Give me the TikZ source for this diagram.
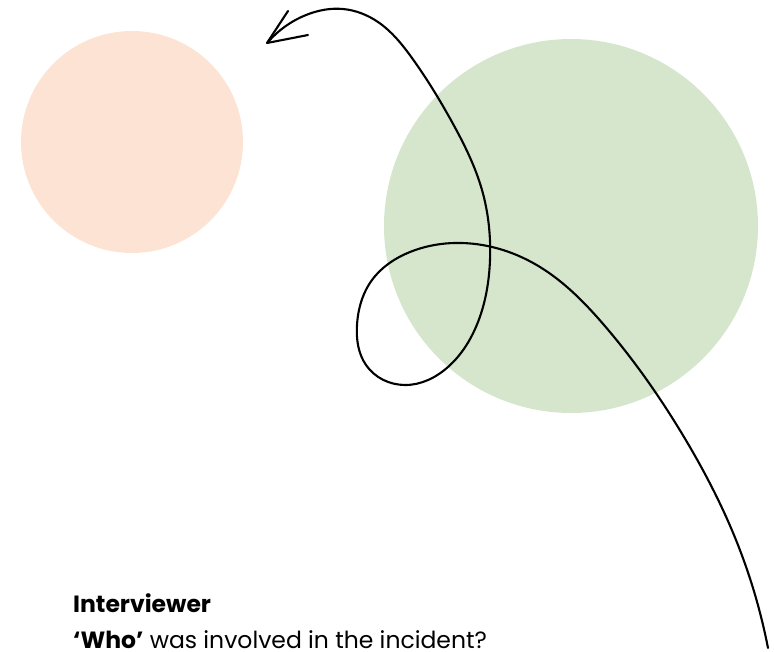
\documentclass[tikz,border=0pt]{standalone}
\usepackage{fontspec}
\setmainfont{Poppins}
\usetikzlibrary{positioning,hobby}
\definecolor{peach}{RGB}{252,227,211}
\definecolor{sage}{RGB}{213,230,205}
\begin{document}
\begin{tikzpicture}[x=1pt,y=-1pt,
  blob/.style={draw=none},
  loopline/.style={black, line width=2.1pt, line cap=round, line join=round},
  caption/.style={anchor=base west, inner sep=0pt, font=\fontsize{23.5}{28}\selectfont}
]
\useasboundingbox (0,0) rectangle (774,651);
% circles
\fill[blob, peach] (132,142) circle (111);
\fill[blob, sage] (571,226) circle (187);
% looping arrow
\draw[loopline, use Hobby shortcut] (768,648) .. (736,540) .. (684,437)
  .. (604,325) .. (540,267) .. (462,243) .. (410,252) .. (372,280)
  .. (357,325) .. (366,365) .. (405,385) .. (448,367) .. (478,322)
  .. (490,260) .. (482,190) .. (452,122) .. (412,58) .. (378,22)
  .. (343,9) .. (306,15) .. (268,42);
\coordinate (tip) at (267,43);
\coordinate (armA) at (288,11);
\coordinate (armB) at (308,35);
\draw[loopline] (armA) -- (tip) -- (armB);
% text
\node[caption, font=\fontsize{23.5}{28}\selectfont\bfseries] (role) at (73,612) {Interviewer};
\node[caption] (question) at (73,648) {\textbf{‘Who’} was involved in the incident?};
\end{tikzpicture}
\end{document}
